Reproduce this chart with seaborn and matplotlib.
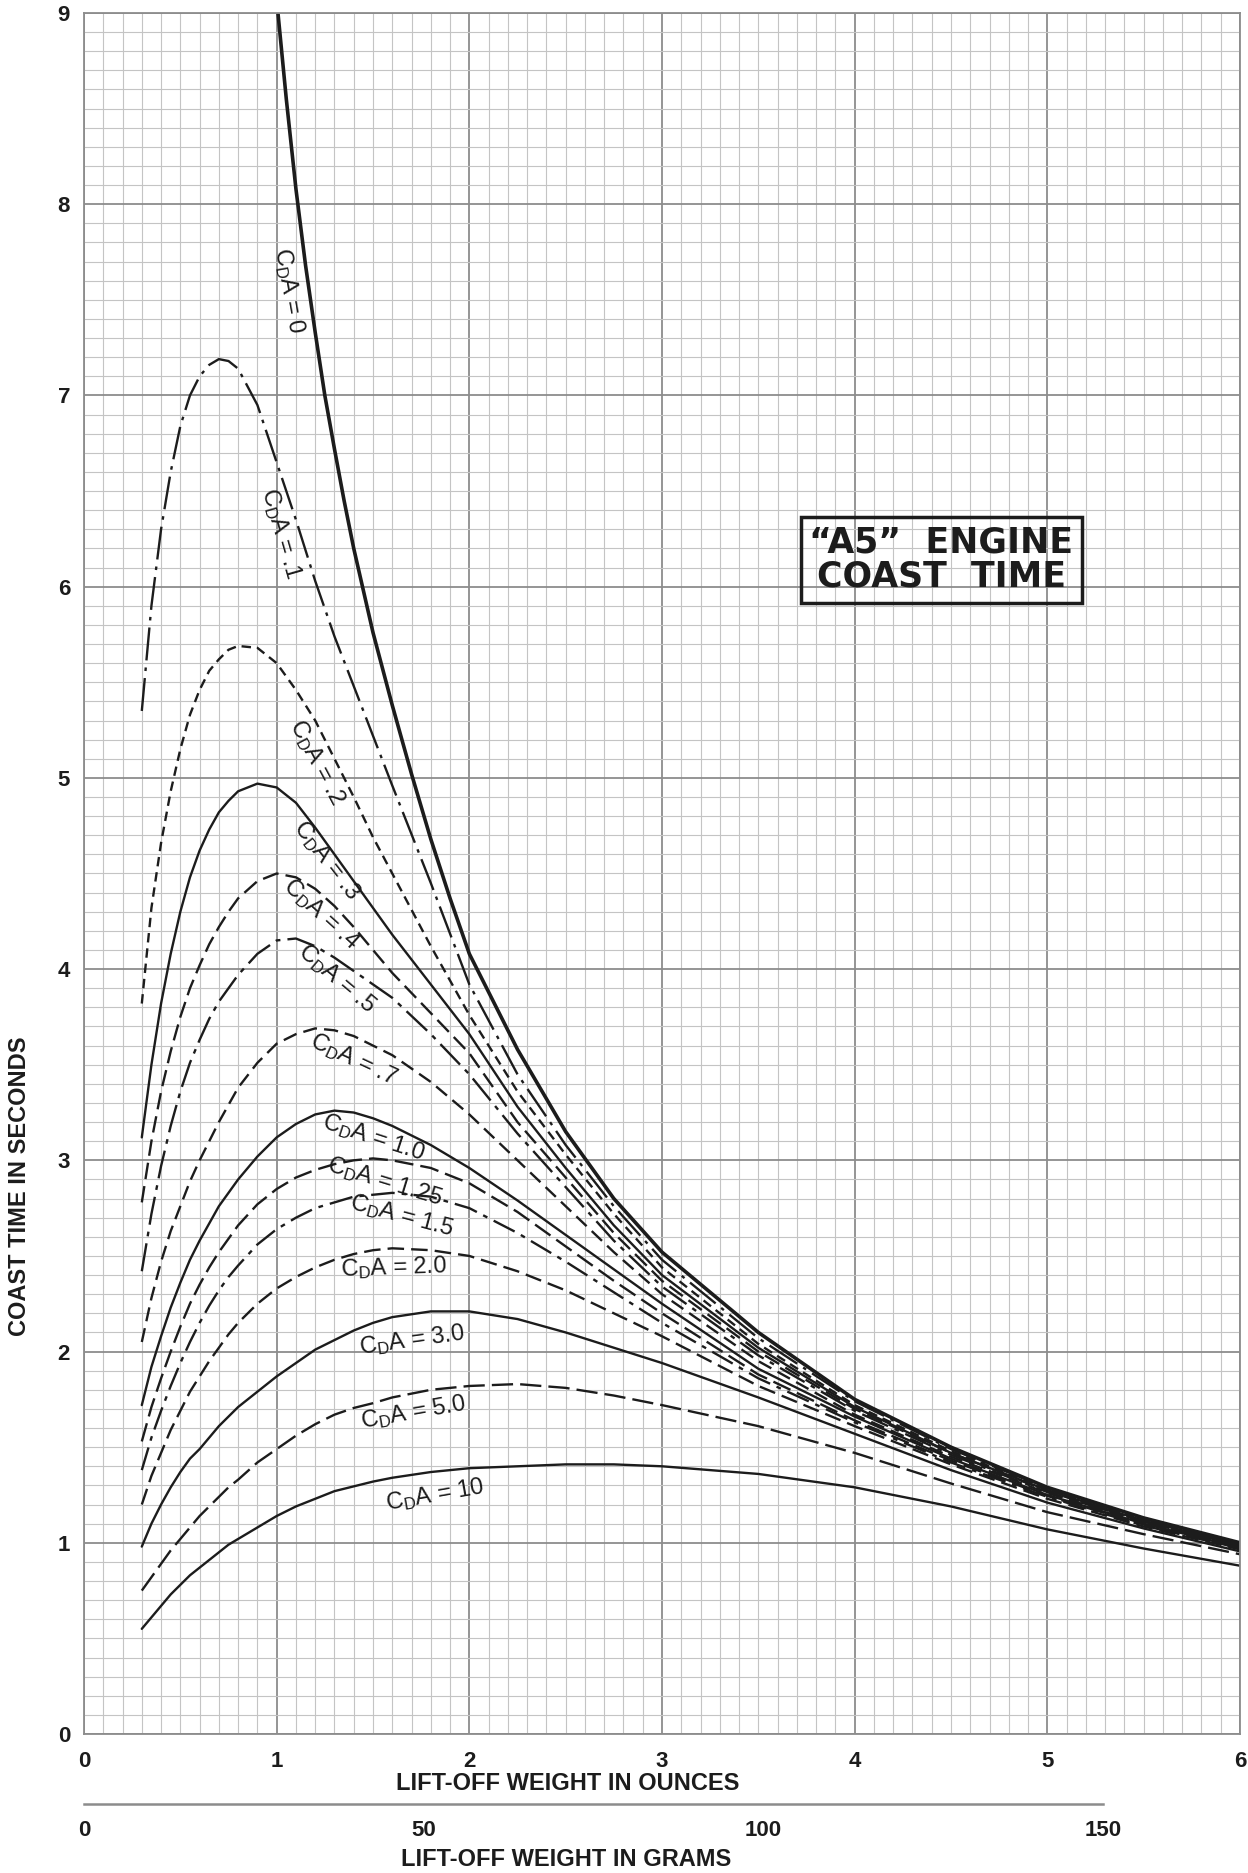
import matplotlib
matplotlib.use("Agg")
import matplotlib.pyplot as plt
from matplotlib.ticker import MultipleLocator
import pandas as pd
import seaborn as sns

# lift-off weight (oz) shared by the curves that start at 0.3 oz
OUNCES = [0.3, 0.35, 0.4, 0.45, 0.5, 0.55, 0.6, 0.65, 0.7, 0.75, 0.8, 0.9, 1.0, 1.1, 1.2,
          1.3, 1.4, 1.5, 1.6, 1.8, 2.0, 2.25, 2.5, 2.75, 3.0, 3.5, 4.0, 4.5, 5.0, 5.5, 6.0]
# the CDA = 0 curve enters through the top of the chart
OUNCES_CD0 = [1.0, 1.05, 1.1, 1.15, 1.2, 1.25, 1.3, 1.35, 1.4, 1.5, 1.6, 1.7, 1.8, 1.9,
              2.0, 2.25, 2.5, 2.75, 3.0, 3.5, 4.0, 4.5, 5.0, 5.5, 6.0]
COAST_CD0 = [9.07, 8.55, 8.08, 7.68, 7.33, 7.0, 6.72, 6.45, 6.2, 5.76, 5.38, 5.02, 4.68, 4.37,
             4.08, 3.58, 3.15, 2.8, 2.52, 2.1, 1.75, 1.5, 1.29, 1.13, 1.0]

# coast time (s) at each OUNCES value
COAST_CD01 = [5.35, 5.9, 6.3, 6.6, 6.84, 7.0, 7.1, 7.16, 7.19, 7.18, 7.14, 6.95, 6.65, 6.35,
              6.03, 5.74, 5.48, 5.22, 4.96, 4.45, 3.92, 3.45, 3.08, 2.76, 2.48, 2.07, 1.74,
              1.49, 1.285, 1.125, 0.995]
COAST_CD02 = [3.82, 4.32, 4.66, 4.93, 5.15, 5.33, 5.46, 5.56, 5.62, 5.67, 5.69, 5.68, 5.6, 5.46,
              5.3, 5.1, 4.9, 4.69, 4.5, 4.12, 3.76, 3.36, 3.03, 2.72, 2.44, 2.04, 1.72, 1.48,
              1.28, 1.12, 0.99]
COAST_CD03 = [3.12, 3.5, 3.82, 4.08, 4.3, 4.48, 4.62, 4.73, 4.82, 4.88, 4.93, 4.97, 4.95, 4.87,
              4.74, 4.6, 4.46, 4.32, 4.18, 3.92, 3.66, 3.28, 2.96, 2.66, 2.4, 2.02, 1.71, 1.47,
              1.275, 1.115, 0.99]
COAST_CD04 = [2.78, 3.1, 3.36, 3.57, 3.75, 3.9, 4.02, 4.13, 4.22, 4.3, 4.37, 4.46, 4.5, 4.48,
              4.42, 4.33, 4.22, 4.1, 3.98, 3.77, 3.56, 3.2, 2.91, 2.62, 2.37, 2.0, 1.7, 1.47,
              1.27, 1.11, 0.985]
COAST_CD05 = [2.42, 2.72, 2.97, 3.18, 3.36, 3.51, 3.63, 3.74, 3.83, 3.9, 3.97, 4.08, 4.15, 4.16,
              4.12, 4.06, 3.99, 3.92, 3.85, 3.66, 3.45, 3.14, 2.86, 2.58, 2.34, 1.98, 1.69, 1.46,
              1.265, 1.11, 0.98]
COAST_CD07 = [2.05, 2.28, 2.47, 2.63, 2.76, 2.89, 3.0, 3.1, 3.2, 3.29, 3.38, 3.51, 3.61, 3.66,
              3.69, 3.68, 3.65, 3.6, 3.55, 3.41, 3.24, 3.0, 2.76, 2.52, 2.3, 1.95, 1.67, 1.45,
              1.26, 1.105, 0.98]
COAST_CD10 = [1.72, 1.92, 2.08, 2.23, 2.36, 2.48, 2.58, 2.67, 2.76, 2.83, 2.9, 3.02, 3.12, 3.19,
              3.24, 3.26, 3.25, 3.22, 3.18, 3.08, 2.96, 2.79, 2.61, 2.43, 2.25, 1.91, 1.66, 1.44,
              1.25, 1.1, 0.975]
COAST_CD125 = [1.53, 1.71, 1.86, 2.0, 2.13, 2.25, 2.35, 2.44, 2.52, 2.59, 2.66, 2.77, 2.85, 2.91,
               2.95, 2.98, 3.0, 3.01, 3.0, 2.96, 2.88, 2.73, 2.55, 2.37, 2.2, 1.88, 1.64, 1.43,
               1.245, 1.095, 0.97]
COAST_CD15 = [1.38, 1.55, 1.69, 1.82, 1.94, 2.05, 2.15, 2.24, 2.32, 2.39, 2.45, 2.56, 2.64, 2.7,
              2.75, 2.78, 2.81, 2.82, 2.83, 2.81, 2.75, 2.62, 2.47, 2.31, 2.15, 1.86, 1.63, 1.42,
              1.24, 1.09, 0.97]
COAST_CD20 = [1.2, 1.35, 1.47, 1.59, 1.69, 1.79, 1.87, 1.95, 2.02, 2.09, 2.15, 2.25, 2.33, 2.39,
              2.44, 2.48, 2.51, 2.53, 2.54, 2.53, 2.5, 2.42, 2.32, 2.2, 2.08, 1.82, 1.61, 1.41,
              1.23, 1.085, 0.965]
COAST_CD30 = [0.98, 1.1, 1.2, 1.29, 1.37, 1.44, 1.49, 1.55, 1.61, 1.66, 1.71, 1.79, 1.87, 1.94,
              2.01, 2.06, 2.11, 2.15, 2.18, 2.21, 2.21, 2.17, 2.1, 2.02, 1.94, 1.76, 1.57, 1.38,
              1.21, 1.075, 0.955]
COAST_CD50 = [0.75, 0.82, 0.89, 0.96, 1.02, 1.08, 1.14, 1.19, 1.24, 1.29, 1.33, 1.42, 1.49, 1.56,
              1.62, 1.67, 1.705, 1.73, 1.76, 1.8, 1.82, 1.83, 1.81, 1.77, 1.72, 1.61, 1.47, 1.31,
              1.16, 1.045, 0.94]
COAST_CD100 = [0.55, 0.61, 0.67, 0.73, 0.78, 0.83, 0.87, 0.91, 0.95, 0.99, 1.02, 1.08, 1.14, 1.19,
               1.23, 1.27, 1.295, 1.32, 1.34, 1.37, 1.39, 1.4, 1.41, 1.41, 1.4, 1.36, 1.29, 1.19,
               1.07, 0.97, 0.88]

CDA_NAMES = ["0", ".1", ".2", ".3", ".4", ".5", ".7", "1.0", "1.25", "1.5", "2.0",
             "3.0", "5.0", "10"]

GRAM_TICKS = [0, 50, 100, 150]
OZ_PER_GRAM = 1 / 28.3495

INK = "#1c1c1c"
GRID_MAJOR = "#8c8c8c"
FIG_W, FIG_H = 1248, 1873

# line style and width per curve
LINE_STYLES = {
    "0": ("-", 2.6),
    ".1": ((0, (14, 3, 1.5, 3)), 1.7),
    ".2": ((0, (4, 2.5)), 1.7),
    ".3": ("-", 1.7),
    ".4": ((0, (7, 3)), 1.7),
    ".5": ((0, (12, 3, 2, 3)), 1.7),
    ".7": ((0, (6, 3)), 1.7),
    "1.0": ("-", 1.7),
    "1.25": ((0, (8, 3)), 1.7),
    "1.5": ((0, (10, 3, 2, 3)), 1.7),
    "2.0": ((0, (7, 3)), 1.7),
    "3.0": ("-", 1.7),
    "5.0": ((0, (9, 3)), 1.7),
    "10": ("-", 1.7),
}

# curve label placement: (oz, s, rotation)
LABEL_SPOTS = {
    "0": (1.065, 7.55, -80),
    ".1": (1.02, 6.28, -74),
    ".2": (1.21, 5.08, -62),
    ".3": (1.26, 4.57, -52),
    ".4": (1.23, 4.29, -42),
    ".5": (1.31, 3.95, -40),
    ".7": (1.40, 3.53, -25),
    "1.0": (1.50, 3.12, -18),
    "1.25": (1.56, 2.89, -17),
    "1.5": (1.65, 2.71, -15),
    "2.0": (1.61, 2.44, 2),
    "3.0": (1.70, 2.06, 8),
    "5.0": (1.71, 1.68, 10),
    "10": (1.82, 1.25, 10),
}

series = [COAST_CD01, COAST_CD02, COAST_CD03, COAST_CD04, COAST_CD05, COAST_CD07,
          COAST_CD10, COAST_CD125, COAST_CD15, COAST_CD20, COAST_CD30, COAST_CD50,
          COAST_CD100]
frames = [pd.DataFrame({"oz": OUNCES_CD0, "sec": COAST_CD0, "cda": "0"})]
for name, vals in zip(CDA_NAMES[1:], series):
    frames.append(pd.DataFrame({"oz": OUNCES, "sec": vals, "cda": name}))
curves = pd.concat(frames, ignore_index=True)

sns.set_style("white")
plt.rcParams["font.family"] = ["Liberation Sans", "DejaVu Sans"]
plt.rcParams["mathtext.default"] = "regular"
BOLD_FONT = ["Liberation Sans", "DejaVu Sans"]

fig = plt.figure(figsize=(FIG_W / 100, FIG_H / 100), dpi=100)
left, right, top, bottom = 84, 1240, 13, 1734
ax = fig.add_axes([left / FIG_W, 1 - bottom / FIG_H,
                   (right - left) / FIG_W, (bottom - top) / FIG_H])

for name in CDA_NAMES:
    ls, lw = LINE_STYLES[name]
    sns.lineplot(data=curves[curves["cda"] == name], x="oz", y="sec", ax=ax,
                 color=INK, lw=lw, linestyle=ls, estimator=None, sort=False,
                 solid_joinstyle="round")

for name, (x, y, rot) in LABEL_SPOTS.items():
    ax.text(x, y, f"C$_\\mathregular{{D}}$A = {name}", rotation=rot,
            rotation_mode="anchor", ha="center", va="center", fontsize=17,
            color=INK)

ax.text(4.45, 6.14, "\u201cA5\u201d  ENGINE\nCOAST  TIME", ha="center", va="center",
        fontsize=25, fontweight="bold", family=["DejaVu Sans"], color=INK,
        linespacing=1.0,
        bbox=dict(boxstyle="square,pad=0.25", fc="none", ec=INK, lw=2.5))

ax.set_xlim(0, 6)
ax.set_ylim(0, 9)
ax.xaxis.set_major_locator(MultipleLocator(1))
ax.xaxis.set_minor_locator(MultipleLocator(0.1))
ax.yaxis.set_major_locator(MultipleLocator(1))
ax.yaxis.set_minor_locator(MultipleLocator(0.1))
ax.grid(which="minor", color="#c4c4c4", lw=0.8)
ax.grid(which="major", color=GRID_MAJOR, lw=1.3)
ax.set_axisbelow(True)
ax.tick_params(which="both", length=0)
ax.tick_params(axis="x", pad=12)
ax.tick_params(axis="y", pad=10)
for lab in ax.get_xticklabels() + ax.get_yticklabels():
    lab.set_fontsize(16)
    lab.set_fontweight("bold")
    lab.set_family(BOLD_FONT)
    lab.set_color(INK)
for sp in ax.spines.values():
    sp.set_color(GRID_MAJOR)
    sp.set_linewidth(1.3)
ax.set_xlabel("")
ax.set_ylabel("")

# grams scale below the ounces axis
gax = fig.add_axes([left / FIG_W, 1 - 1804 / FIG_H, (right - left) / FIG_W, 0.0001])
gax.set_yticks([])
for side in ["top", "left", "right"]:
    gax.spines[side].set_visible(False)
gax.spines["bottom"].set_bounds(0, 150)
gax.spines["bottom"].set_color(GRID_MAJOR)
gax.spines["bottom"].set_linewidth(1.8)
gax.set_xticks(GRAM_TICKS)
gax.xaxis.set_minor_locator(MultipleLocator(10))
gax.tick_params(axis="x", which="both", direction="inout", length=7, width=1.2,
                color=GRID_MAJOR, pad=8)
gax.tick_params(axis="x", which="minor", length=5)
gax.set_xlim(0, 6 / OZ_PER_GRAM)
for lab in gax.get_xticklabels():
    lab.set_fontsize(16)
    lab.set_fontweight("bold")
    lab.set_family(BOLD_FONT)
    lab.set_color(INK)

fig.text(568 / FIG_W, 1 - 1783 / FIG_H, "LIFT-OFF WEIGHT IN OUNCES", ha="center", va="center",
         fontsize=17, fontweight="bold", family=BOLD_FONT, color=INK)
fig.text(566 / FIG_W, 1 - 1859 / FIG_H, "LIFT-OFF WEIGHT IN GRAMS", ha="center", va="center",
         fontsize=17, fontweight="bold", family=BOLD_FONT, color=INK)
fig.text(20 / FIG_W, 1 - 1186 / FIG_H, "COAST TIME IN SECONDS", ha="center", va="center",
         rotation=90, fontsize=17, fontweight="bold", family=BOLD_FONT, color=INK)

fig.savefig("out.png", dpi=100, facecolor="white")
